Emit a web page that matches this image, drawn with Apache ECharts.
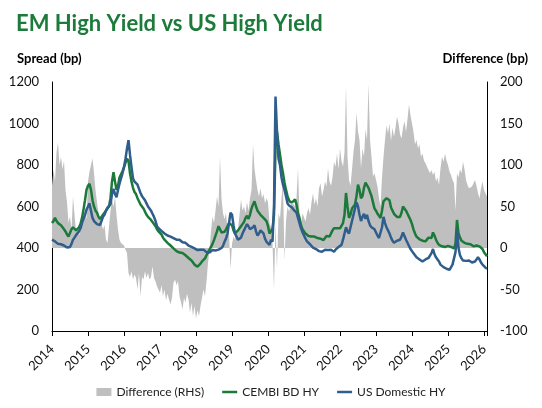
<!DOCTYPE html>
<html>
<head>
<meta charset="utf-8">
<script src="https://cdn.jsdelivr.net/npm/echarts@6/dist/echarts.min.js"></script>
<style>
html,body{margin:0;padding:0;background:#fff;}
#chart{width:542px;height:408px;}
</style>
</head>
<body>
<div id="chart"></div>
<script>
// Observations are semi-monthly (1st and 16th of each month), starting Jan 2014.
const START_YEAR = 2014;
const STEPS_PER_YEAR = 24;
const yearTicks = [2014,2015,2016,2017,2018,2019,2020,2021,2022,2023,2024,2025,2026];

// US Domestic HY spread (bp), left axis
const usHY = [
  440,448,432,425,420,415,418,410,412,408,402,400,405,420,440,450,462,470,480,495,520,540,560,585, // 2014
  600,615,580,545,530,525,515,508,510,530,550,560,580,595,590,610,660,685,660,645,680,710,735,760, // 2015
  790,830,880,920,850,790,735,720,725,705,685,665,650,640,630,615,600,590,580,565,550,530,505,495, // 2016
  490,482,475,470,465,460,462,455,450,448,445,440,438,440,432,428,422,425,418,412,408,405,400,398, // 2017
  395,390,395,392,388,392,385,380,375,378,385,390,392,388,385,392,395,400,410,430,445,470,520,570, // 2018
  560,510,470,455,440,435,450,470,485,500,515,505,490,495,500,510,480,460,470,485,490,470,445,430, // 2019
  425,415,440,430,600,1130,960,830,800,740,705,680,650,615,605,600,595,585,580,570,545,520,495,475, // 2020
  460,445,432,425,418,410,402,398,395,390,385,380,382,388,392,395,390,385,392,388,382,392,400,405, // 2021
  405,415,440,470,500,480,470,500,530,560,590,620,600,560,530,550,565,540,560,530,510,500,495,490, // 2022
  475,460,448,455,500,550,520,500,485,470,450,435,425,430,435,432,440,455,475,470,440,425,410,395, // 2023
  385,375,365,355,350,345,340,335,338,345,350,352,355,375,395,370,355,345,335,320,312,308,305,300, // 2024
  298,295,300,320,350,380,490,400,365,350,340,335,338,342,340,335,330,328,335,345,355,345,330,320, // 2025
  315,305,300                                                                                      // 2026
];

// CEMBI BD HY spread (bp), left axis
const cembiHY = [
  520,530,545,530,520,525,510,500,490,480,465,455,460,490,500,495,485,490,500,515,545,585,630,680, // 2014
  700,710,680,630,600,580,570,550,540,545,560,570,575,590,600,640,720,765,720,680,700,740,755,770, // 2015
  790,810,830,820,760,720,690,670,660,640,625,610,600,590,575,560,550,545,535,525,520,505,490,480, // 2016
  475,465,450,440,432,425,420,412,408,398,390,385,380,378,372,376,370,365,360,352,345,340,330,320, // 2017
  315,310,315,325,335,340,350,365,380,392,405,420,438,460,480,505,490,475,470,478,490,505,520,525, // 2018
  510,485,470,475,485,490,505,515,525,545,555,540,560,590,610,625,600,580,570,560,555,545,540,530, // 2019
  505,470,480,495,560,880,960,900,850,800,760,715,680,650,630,620,615,625,635,610,570,545,510,490, // 2020
  480,470,462,458,462,455,450,455,452,448,450,445,440,438,448,458,462,455,470,485,495,500,495,490, // 2021
  495,500,520,560,665,600,545,560,590,600,610,650,705,680,640,650,690,715,720,690,670,650,620,590, // 2022
  580,565,555,545,580,625,630,640,645,630,595,580,565,560,550,545,550,570,600,605,580,565,550,535, // 2023
  515,490,470,455,448,442,440,435,430,432,440,450,455,448,475,460,440,425,415,412,408,412,405,410, // 2024
  410,408,405,400,398,420,535,470,450,435,430,425,422,420,425,418,412,408,405,412,415,408,400,395, // 2025
  380,372,360                                                                                      // 2026
];

// Difference (bp), right axis
const difference = [
  75,95,80,115,127,100,110,95,105,70,55,30,38,22,62,40,20,25,15,22,40,30,42,35,                   // 2014
  80,92,100,108,90,70,55,42,35,30,22,28,10,6,26,45,58,50,62,40,22,10,6,4,                         // 2015
  3,-2,-6,-30,-35,-28,-38,-32,-36,-50,-30,-58,-35,-38,-28,-36,-30,-38,-35,-22,-36,-40,-46,-50,     // 2016
  -54,-45,-58,-50,-63,-55,-62,-68,-60,-42,-38,-45,-40,-58,-65,-74,-60,-66,-55,-62,-78,-66,-82,-70, // 2017
  -85,-75,-82,-70,-60,-50,-58,-40,-18,-2,20,38,30,45,62,50,110,60,42,35,42,22,18,-26,              // 2018
  5,14,10,18,22,40,58,45,50,42,55,45,60,70,125,95,82,70,62,72,60,65,54,60,                         // 2019
  55,30,25,5,-50,30,-25,42,35,60,80,-15,32,50,44,52,55,56,50,60,96,40,28,42,                       // 2020
  40,32,42,48,40,55,66,52,60,50,72,78,62,70,80,74,96,80,75,85,104,98,114,95,                       // 2021
  120,105,98,115,195,110,82,75,95,116,130,163,140,130,96,120,110,143,130,198,130,110,86,90,        // 2022
  92,74,60,50,85,110,130,148,138,150,129,145,134,145,158,150,137,132,145,153,140,155,173,160,      // 2023
  150,140,125,130,120,125,110,114,105,102,98,96,90,94,88,92,80,85,76,96,110,104,114,105,           // 2024
  100,92,88,82,78,45,90,85,95,90,104,95,82,76,72,70,74,72,82,75,66,60,72,80,                       // 2025
  70,66,62                                                                                         // 2026
];

const toPairs = arr => arr.map((v, i) => [START_YEAR + i / STEPS_PER_YEAR, v]);
const xMax = START_YEAR + (usHY.length - 1) / STEPS_PER_YEAR;

const FONT = 'Lato';
// legend icon: thin horizontal stroke centred in a 15x8 box
const LINE_ICON = 'path://M0,0L0,0M0,2.75L15,2.75L15,5.25L0,5.25ZM15,8L15,8';

const chart = echarts.init(document.getElementById('chart'), null, {renderer: 'canvas'});
chart.setOption({
  animation: false,
  backgroundColor: '#ffffff',
  textStyle: {fontFamily: FONT},
  title: [
    {text: 'EM High Yield vs US High Yield', left: 11, top: 8,
     textStyle: {fontFamily: FONT, fontSize: 22, fontWeight: 'bold', color: '#1c7a3b'}},
    {text: 'Spread (bp)', left: 12, top: 47,
     textStyle: {fontFamily: FONT, fontSize: 13, fontWeight: 'bold', color: '#000'}},
    {text: 'Difference (bp)', right: 9, top: 47,
     textStyle: {fontFamily: FONT, fontSize: 13, fontWeight: 'bold', color: '#000'}}
  ],
  grid: {left: 52, right: 55, top: 82, bottom: 77, containLabel: false},
  legend: {
    top: 381, left: 'center',
    itemWidth: 15, itemHeight: 8, itemGap: 18,
    textStyle: {fontFamily: FONT, fontSize: 12, color: '#222'},
    data: [
      {name: 'Difference (RHS)', icon: 'rect'},
      {name: 'CEMBI BD HY', icon: LINE_ICON},
      {name: 'US Domestic HY', icon: LINE_ICON}
    ]
  },
  xAxis: {
    type: 'value', min: START_YEAR, max: xMax, interval: 1,
    axisLine: {show: true, lineStyle: {color: '#000', width: 1}},
    axisTick: {show: true, length: 5, lineStyle: {color: '#000'}},
    splitLine: {show: false},
    axisLabel: {
      rotate: 45, margin: 16, fontSize: 13, color: '#111', fontFamily: FONT,
      formatter: v => (yearTicks.indexOf(Math.round(v)) >= 0 && Math.abs(v - Math.round(v)) < 1e-6) ? String(Math.round(v)) : ''
    }
  },
  yAxis: [
    {type: 'value', min: 0, max: 1200, interval: 200, position: 'left',
     axisLine: {show: true, lineStyle: {color: '#000', width: 1}},
     axisTick: {show: false}, splitLine: {show: false},
     axisLabel: {margin: 13, fontSize: 13, color: '#111', fontFamily: FONT, formatter: v => String(v)}},
    {type: 'value', min: -100, max: 200, interval: 50, position: 'right',
     axisLine: {show: true, lineStyle: {color: '#000', width: 1}},
     axisTick: {show: false}, splitLine: {show: false},
     axisLabel: {margin: 13, fontSize: 13, color: '#111', fontFamily: FONT, formatter: v => String(v)}}
  ],
  series: [
    {name: 'Difference (RHS)', type: 'line', yAxisIndex: 1, data: toPairs(difference),
     symbol: 'none', color: '#bfbfbf', lineStyle: {width: 0},
     areaStyle: {color: '#bfbfbf', opacity: 1}, z: 1},
    {name: 'CEMBI BD HY', type: 'line', yAxisIndex: 0, data: toPairs(cembiHY),
     symbol: 'none', color: '#1b7a3a', lineStyle: {width: 2.5, color: '#1b7a3a'}, z: 3},
    {name: 'US Domestic HY', type: 'line', yAxisIndex: 0, data: toPairs(usHY),
     symbol: 'none', color: '#2f5d8c', lineStyle: {width: 2.5, color: '#2f5d8c'}, z: 4}
  ]
});
</script>
</body>
</html>
